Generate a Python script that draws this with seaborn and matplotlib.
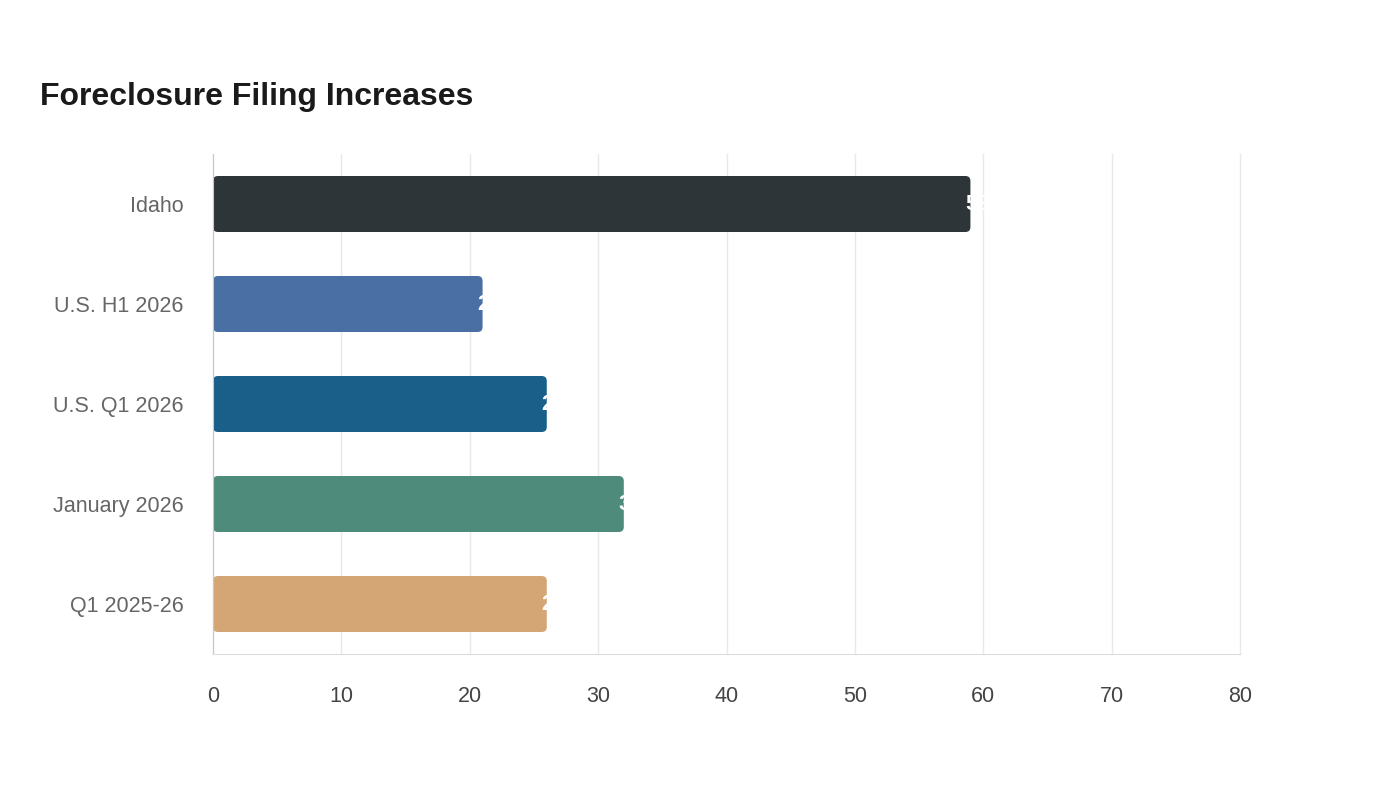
import numpy as np
import pandas as pd
import seaborn as sns
import matplotlib.pyplot as plt
from matplotlib.patches import FancyBboxPatch

categories = ['Idaho', 'U.S. H1 2026', 'U.S. Q1 2026', 'January 2026', 'Q1 2025-26']
values = [59, 21, 26, 32, 26]
colors = ['#2d3538', '#4a6fa5', '#1a5f8a', '#4e8b7a', '#d4a676']
xticks = [0, 10, 20, 30, 40, 50, 60, 70, 80]

sns.set_style('white')
plt.rcParams['font.family'] = ['Liberation Sans', 'DejaVu Sans']

df = pd.DataFrame({'category': categories, 'value': values})

fig = plt.figure(figsize=(14, 8), dpi=100)
ax = fig.add_axes([213 / 1400, 1 - 654 / 800, (1240 - 213) / 1400, 500 / 800])

sns.barplot(data=df, x='value', y='category', hue='category', palette=colors,
            orient='h', width=0.56, legend=False, ax=ax, saturation=1)

# swap plain bars for rounded ones
x_px = (1240 - 213) / 80.0
y_px = 100.0
for p in list(ax.patches):
    x0, y0 = p.get_x(), p.get_y()
    w, h = p.get_width(), p.get_height()
    fc = p.get_facecolor()
    p.remove()
    r = 5 / x_px
    fb = FancyBboxPatch((x0, y0), w, h,
                        boxstyle=f'round,pad=0,rounding_size={r}',
                        mutation_aspect=x_px / y_px,
                        facecolor=fc, edgecolor='none', zorder=2)
    ax.add_patch(fb)

for i, v in enumerate(values):
    ax.annotate(str(v), xy=(v, i), xytext=(-4, 0), textcoords='offset points',
                ha='left', va='center', color='white', fontsize=16,
                fontweight='bold', zorder=3)

ax.set_xlim(0, 80)
ax.set_ylim(4.5, -0.5)
ax.set_xticks(xticks)
ax.set_xticklabels([str(t) for t in xticks])
ax.set_xlabel('')
ax.set_ylabel('')
ax.grid(axis='x', color='#e8e8e8', linewidth=1)
for gl in ax.get_xgridlines():
    gl.set_clip_on(False)
ax.set_axisbelow(True)
for s in ['top', 'right']:
    ax.spines[s].set_visible(False)
ax.spines['left'].set_color('#c8c8c8')
ax.spines['bottom'].set_color('#dddddd')
ax.tick_params(axis='x', colors='#444444', labelsize=15.5, length=8,
               color='#e8e8e8', pad=15)
ax.tick_params(axis='y', colors='#666666', labelsize=15.5, length=0, pad=21)
for lbl in ax.get_yticklabels():
    lbl.set_color('#666666')
for lbl in ax.get_xticklabels():
    lbl.set_color('#444444')

fig.text(40 / 1400, 1 - 97 / 800, 'Foreclosure Filing Increases',
         fontsize=23, fontweight='bold', color='#1a1a1a', va='center', ha='left')

fig.savefig('out.png', dpi=100, facecolor='white')
